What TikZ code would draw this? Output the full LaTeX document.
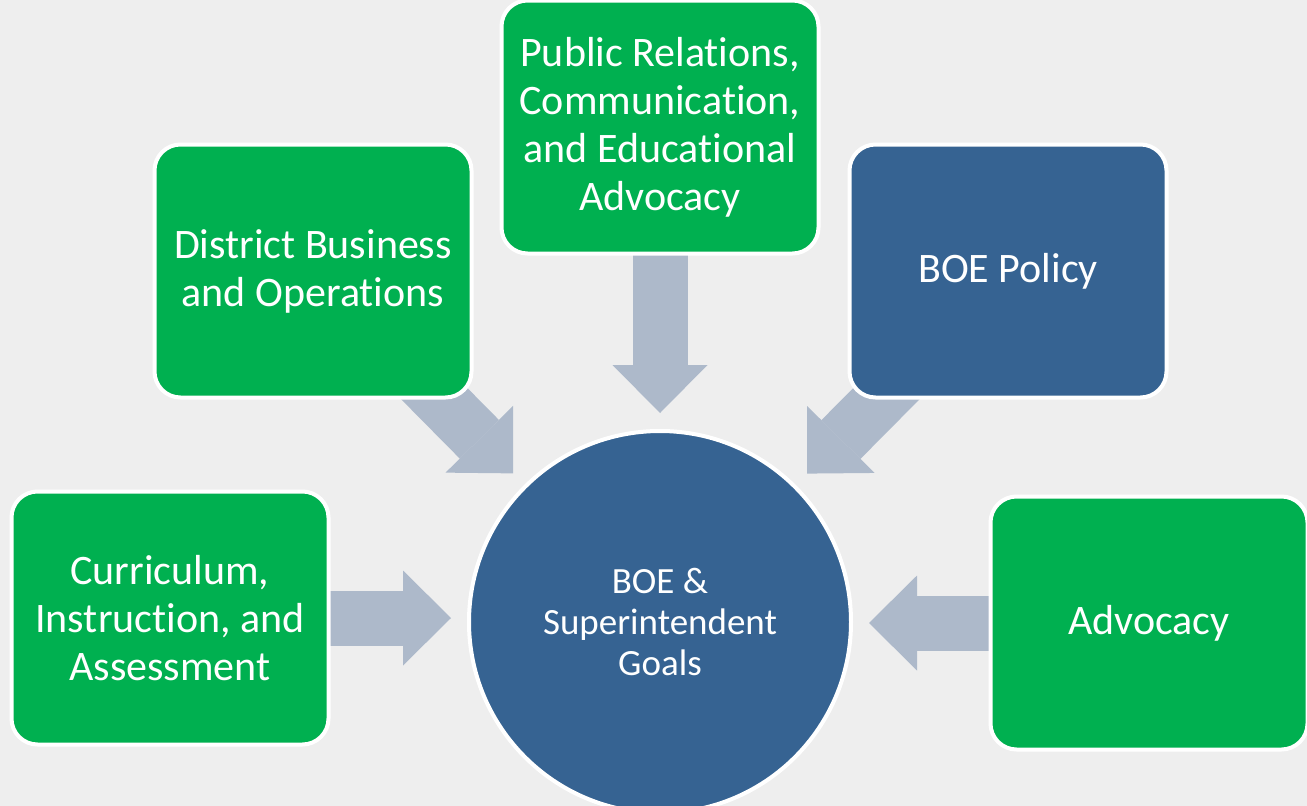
\documentclass[tikz,border=0pt]{standalone}
\usepackage{fontspec}
\setmainfont{Carlito}[Ligatures=NoCommon]
\usetikzlibrary{arrows.meta}
\definecolor{boxgreen}{HTML}{00B050}
\definecolor{goalblue}{HTML}{366392}
\definecolor{arrowgray}{HTML}{ADB9CA}
\definecolor{slidebg}{HTML}{EEEEEE}
\pgfdeclarelayer{back}
\pgfdeclarelayer{flows}
\pgfsetlayers{back,flows,main}
\begin{document}
\begin{tikzpicture}[x=1pt,y=-1pt,
  topic/.style={draw=white, line width=4pt, fill=boxgreen, rounded corners=26pt,
    minimum width=317pt, minimum height=253pt, inner sep=0pt, align=center,
    text=white, font=\fontsize{42}{48}\selectfont},
  policy/.style={topic, fill=goalblue},
  goal/.style={circle, draw=white, line width=4pt, fill=goalblue, minimum size=382pt,
    inner sep=0pt, align=center, text=white, font=\fontsize{37}{41}\selectfont},
  flow/.style={draw=arrowgray, line width=55pt,
    -{Triangle[width=95pt,length=48pt,line width=0pt]}, shorten >=16pt}]
\begin{pgfonlayer}{back}
\fill [slidebg] (0,0) rectangle (1307,806);
\end{pgfonlayer}
\useasboundingbox (0,0) rectangle (1307,806);
% the goals and the five areas round them
\node [goal] (goals) at (660,622) {BOE \&\\Superintendent\\Goals};
\node [topic] (cia) at (170,618) {Curriculum,\\Instruction, and\\Assessment};
\node [topic] (dbo) at (313,271) {District Business\\and Operations};
\node [topic] (pr) at (660,127) {Public Relations,\\Communication,\\and Educational\\Advocacy};
\node [policy] (pol) at (1008,271) {BOE Policy};
\node [topic] (adv) at (1149,623) {Advocacy};
% block arrows, behind the boxes
\begin{pgfonlayer}{flows}
\draw [flow] (cia.center) -- (cia.center -| goals.west);
\draw [flow] (dbo.center) -- (goals);
\draw [flow] (pr.center) -- (goals);
\draw [flow] (pol.center) -- (goals);
\draw [flow] (adv.center) -- (adv.center -| goals.east);
\end{pgfonlayer}
\end{tikzpicture}
\end{document}
